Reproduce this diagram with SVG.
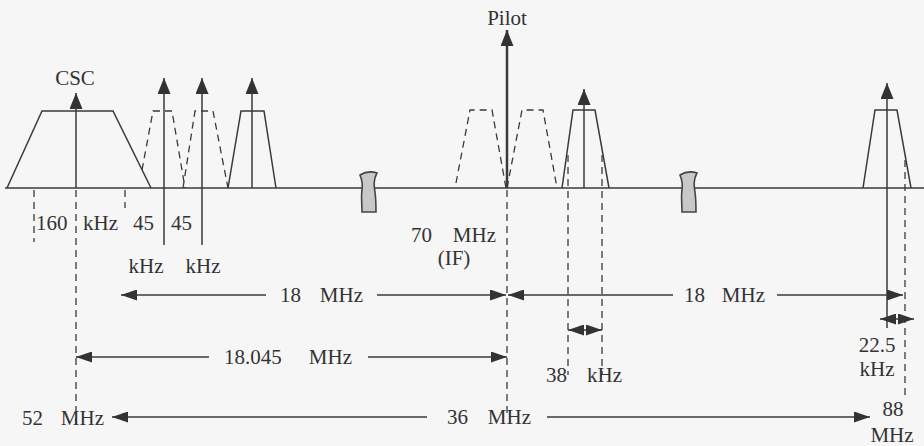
<svg xmlns="http://www.w3.org/2000/svg" width="924" height="446" viewBox="0 0 924 446">
<defs>
<style>
.ln{stroke:#3a3a3a;stroke-width:1.5;fill:none}
.dsh{stroke:#3a3a3a;stroke-width:1.3;fill:none;stroke-dasharray:7,5}
.t{font-family:"Liberation Serif","Times New Roman",serif;font-size:21px;fill:#333}
.brk{fill:#c8c8c8;stroke:#444;stroke-width:1.6}
</style>
<marker id="ah" viewBox="0 0 16 11" refX="16" refY="5.5" markerWidth="16" markerHeight="11" markerUnits="userSpaceOnUse" orient="auto-start-reverse">
<path d="M0,0 L16,5.5 L0,11 Z" fill="#333"/>
</marker>
<marker id="up" viewBox="0 0 16 13" refX="16" refY="6.5" markerWidth="16" markerHeight="13" markerUnits="userSpaceOnUse" orient="auto">
<path d="M0,0 L16,6.5 L0,13 Z" fill="#333"/>
</marker>
<path id="brkshape" d="M360,175 Q368,170 377,173 C373,180 374,186 375,192 C376,200 376,206 376,212 L362,212 C362,204 361,196 362,190 C363,184 362,180 360,175 Z"/>
</defs>
<rect width="924" height="446" fill="#f6f6f6"/>

<g id="axis">
<line class="ln" x1="5" y1="188" x2="924" y2="188"/>
<use href="#brkshape" class="brk"/>
<use href="#brkshape" class="brk" transform="translate(320,0)"/>
</g>

<g id="csc">
<polyline class="ln" points="7,188 42,111 113,111 151,188"/>
<line class="ln" x1="76" y1="188" x2="76" y2="93" marker-end="url(#up)"/>
<text class="t" x="75" y="85" text-anchor="middle">CSC</text>
</g>

<g id="sidebands-left">
<polyline class="dsh" points="142,170 153,111 172,111 185,188"/>
<polyline class="dsh" points="183,188 195,111 213,111 228,188"/>
<polyline class="ln" points="228,188 241,111 264,111 276,188"/>
<line class="ln" x1="164" y1="245" x2="164" y2="78" marker-end="url(#up)"/>
<line class="ln" x1="202" y1="245" x2="202" y2="78" marker-end="url(#up)"/>
<line class="ln" x1="252" y1="188" x2="252" y2="78" marker-end="url(#up)"/>
</g>

<g id="pilot">
<polyline class="dsh" points="456,183 470,110 492,110 506,188"/>
<polyline class="dsh" points="507,188 522,110 543,110 557,188"/>
<polyline class="ln" points="562,188 573,110 595,110 609,188"/>
<line class="ln" x1="584" y1="188" x2="584" y2="89" marker-end="url(#up)"/>
<line class="ln" style="stroke-width:2.5" x1="507" y1="188" x2="507" y2="30" marker-end="url(#up)"/>
<text class="t" x="507" y="25" text-anchor="middle">Pilot</text>
</g>

<g id="right-channel">
<polyline class="ln" points="863,188 875,110 897,110 911,188"/>
<line class="ln" x1="887" y1="328" x2="887" y2="83" marker-end="url(#up)"/>
</g>

<g id="connectors">
<line class="dsh" x1="34" y1="190" x2="34" y2="242"/>
<line class="dsh" x1="76" y1="190" x2="76" y2="424"/>
<line class="dsh" x1="125" y1="190" x2="125" y2="208"/>
<line class="dsh" x1="507" y1="190" x2="507" y2="415"/>
<line class="dsh" x1="568" y1="155" x2="568" y2="375"/>
<line class="dsh" x1="602" y1="155" x2="602" y2="375"/>
<line class="dsh" x1="905" y1="160" x2="905" y2="400"/>

<line class="ln" x1="266" y1="295" x2="121" y2="295" marker-end="url(#ah)"/>
<line class="ln" x1="377" y1="295" x2="506" y2="295" marker-end="url(#ah)"/>
<line class="ln" x1="673" y1="295" x2="508" y2="295" marker-end="url(#ah)"/>
<line class="ln" x1="777" y1="295" x2="903" y2="295" marker-end="url(#ah)"/>

<line class="ln" x1="209" y1="357" x2="76" y2="357" marker-end="url(#ah)"/>
<line class="ln" x1="368" y1="357" x2="507" y2="357" marker-end="url(#ah)"/>

<line class="ln" x1="427" y1="417" x2="112" y2="417" marker-end="url(#ah)"/>
<line class="ln" x1="547" y1="417" x2="870" y2="417" marker-end="url(#ah)"/>

<line class="ln" x1="568" y1="330" x2="602" y2="330" marker-start="url(#ah)" marker-end="url(#ah)"/>
<line class="ln" x1="880" y1="319" x2="914" y2="319" marker-start="url(#ah)" marker-end="url(#ah)"/>
</g>

<g id="labels">
<text class="t" x="36" y="230">160</text>
<text class="t" x="83" y="230">kHz</text>
<text class="t" x="133" y="230">45</text>
<text class="t" x="171" y="230">45</text>
<text class="t" x="146" y="273" text-anchor="middle">kHz</text>
<text class="t" x="203" y="273" text-anchor="middle">kHz</text>
<text class="t" x="411" y="242">70</text>
<text class="t" x="496" y="242" text-anchor="end">MHz</text>
<text class="t" x="454" y="265" text-anchor="middle">(IF)</text>
<text class="t" x="280" y="302">18</text>
<text class="t" x="363" y="302" text-anchor="end">MHz</text>
<text class="t" x="684" y="302">18</text>
<text class="t" x="765" y="302" text-anchor="end">MHz</text>
<text class="t" x="224" y="364">18.045</text>
<text class="t" x="352" y="364" text-anchor="end">MHz</text>
<text class="t" x="22" y="425">52</text>
<text class="t" x="104" y="425" text-anchor="end">MHz</text>
<text class="t" x="447" y="424">36</text>
<text class="t" x="531" y="424" text-anchor="end">MHz</text>
<text class="t" x="546" y="382">38</text>
<text class="t" x="622" y="382" text-anchor="end">kHz</text>
<text class="t" x="877" y="352" text-anchor="middle">22.5</text>
<text class="t" x="877" y="376" text-anchor="middle">kHz</text>
<text class="t" x="893" y="416" text-anchor="middle">88</text>
<text class="t" x="892" y="442" text-anchor="middle">MHz</text>
</g>
</svg>
